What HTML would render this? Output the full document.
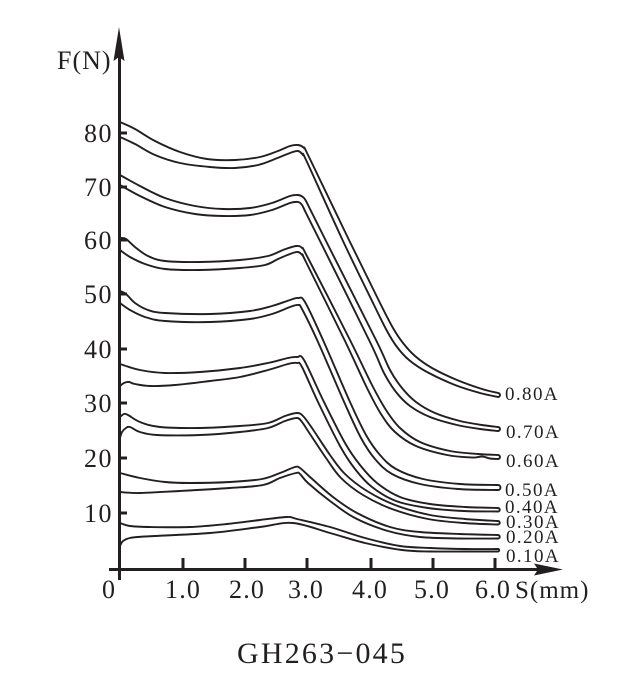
<!DOCTYPE html>
<html>
<head>
<meta charset="utf-8">
<style>
  html, body { margin: 0; padding: 0; background: #ffffff; }
  svg { display: block; }
  .t { font-family: "Liberation Serif", "DejaVu Serif", serif; fill: #231f20; }
</style>
</head>
<body>
<svg id="chart" width="642" height="691" viewBox="0 0 642 691" xmlns="http://www.w3.org/2000/svg">
  <rect x="0" y="0" width="642" height="691" fill="#ffffff"/>

  <!-- Y axis -->
  <line x1="119.5" y1="52" x2="119.5" y2="580" stroke="#231f20" stroke-width="3"/>
  <polygon points="119,27 113.5,61 119,57 124.5,61" fill="#231f20"/>
  <!-- X axis -->
  <line x1="109" y1="569.5" x2="540" y2="569.5" stroke="#231f20" stroke-width="3"/>
  <polygon points="563,569.5 534,563.5 538,569.5 534,575.5" fill="#231f20"/>

  <!-- Y ticks -->
  <g stroke="#231f20" stroke-width="3">
    <line x1="119" y1="133" x2="127" y2="133"/>
    <line x1="119" y1="187" x2="127" y2="187"/>
    <line x1="119" y1="240" x2="127" y2="240"/>
    <line x1="119" y1="294" x2="127" y2="294"/>
    <line x1="119" y1="349" x2="127" y2="349"/>
    <line x1="119" y1="403" x2="127" y2="403"/>
    <line x1="119" y1="458" x2="127" y2="458"/>
    <line x1="119" y1="513" x2="127" y2="513"/>
  </g>
  <!-- X ticks -->
  <g stroke="#231f20" stroke-width="3">
    <line x1="183" y1="558" x2="183" y2="569"/>
    <line x1="245" y1="558" x2="245" y2="569"/>
    <line x1="307" y1="558" x2="307" y2="569"/>
    <line x1="371" y1="558" x2="371" y2="569"/>
    <line x1="433" y1="558" x2="433" y2="569"/>
    <line x1="495" y1="558" x2="495" y2="569"/>
  </g>

  <!-- Y labels -->
  <g class="t" font-size="26" letter-spacing="1.5">
    <text x="84" y="142">80</text>
    <text x="84" y="196">70</text>
    <text x="84" y="249">60</text>
    <text x="84" y="303">50</text>
    <text x="84" y="358">40</text>
    <text x="84" y="412">30</text>
    <text x="84" y="467">20</text>
    <text x="84" y="522">10</text>
  </g>
  <!-- X labels -->
  <g class="t" font-size="26" letter-spacing="1.2">
    <text x="102" y="598">0</text>
    <text x="165" y="598">1.0</text>
    <text x="229" y="598">2.0</text>
    <text x="288" y="598">3.0</text>
    <text x="352" y="598">4.0</text>
    <text x="414" y="598">5.0</text>
    <text x="475" y="598">6.0</text>
  </g>
  <text class="t" x="515" y="598" font-size="25" letter-spacing="1">S(mm)</text>
  <text class="t" x="57" y="69" font-size="26" letter-spacing="1">F(N)</text>

  <!-- Curve labels -->
  <g class="t" font-size="19" letter-spacing="1.4">
    <text x="505" y="400">0.80A</text>
    <text x="506" y="438">0.70A</text>
    <text x="506" y="467">0.60A</text>
    <text x="505" y="496">0.50A</text>
    <text x="505" y="513">0.40A</text>
    <text x="506" y="528">0.30A</text>
    <text x="506" y="543">0.20A</text>
    <text x="506" y="562">0.10A</text>
  </g>

  <text class="t" x="237" y="663" font-size="30" letter-spacing="2.2">GH263−045</text>

  <g id="curves" fill="none" stroke="#231f20" stroke-width="1.9" stroke-linejoin="round" stroke-linecap="round"></g>
</svg>
<script>
(function(){
  var pairs = [
    [ // 0.80A
      [[120,122],[135,129],[155,141],[180,152],[207,159],[235,160],[260,157],[278,151],[290,146],[298,145],[304,148],[309,157],[349,240],[380,303],[393,328],[403,343],[415,356],[432,368],[457,380],[482,389],[498,393]],
      [[120,137],[135,144],[155,155],[180,163],[210,167],[235,168],[258,165],[275,159],[290,153],[298,151],[303,155],[307,162],[343,241],[374,305],[387,331],[397,347],[409,360],[427,372],[455,385],[480,393],[498,397]]
    ],
    [ // 0.70A
      [[120,175],[140,186],[165,198],[195,206],[223,209],[250,208],[272,203],[290,196],[298,195],[304,198],[309,207],[327,243],[376,340],[390,370],[402,388],[416,402],[435,413],[460,421],[482,425],[498,427]],
      [[120,185],[140,196],[165,207],[195,214],[223,216],[250,215],[272,210],[290,203],[298,202],[302,205],[306,213],[322,245],[370,342],[384,373],[396,392],[410,406],[430,417],[457,425],[480,429],[498,431]]
    ],
    [ // 0.60A
      [[120,238],[126,239],[135,247],[148,256],[165,261],[200,262],[240,260],[268,256],[283,250],[296,246],[302,248],[308,258],[350,340],[372,385],[386,410],[400,428],[420,442],[450,451],[478,454],[498,455]],
      [[120,250],[130,257],[145,264],[165,269],[200,270],[240,268],[265,265],[278,259],[290,254],[298,252],[303,256],[306,262],[345,341],[367,388],[381,414],[395,432],[416,446],[447,455],[472,457.5],[482,456.5],[490,458.5],[498,459]]
    ],
    [ // 0.50A
      [[120,291],[126,294],[135,303],[148,310],[165,313],[210,314],[250,311],[272,306],[290,300],[298,298],[305,302],[323,340],[350,402],[366,435],[380,455],[396,469],[423,479],[460,484],[498,485]],
      [[120,303],[130,310],[145,317],[165,321],[210,322],[250,319],[272,314],[290,307],[298,305],[302,309],[318,342],[345,404],[361,438],[375,459],[392,474],[420,484],[458,489],[498,490]]
    ],
    [ // 0.40A
      [[120,364],[140,370],[165,373],[200,372],[240,368],[268,363],[288,358],[297,357],[304,360],[323,400],[345,443],[360,465],[377,483],[400,497],[430,504],[465,507],[498,508]],
      [[120,386],[124,383],[129,382],[135,384],[150,386],[175,385],[210,381],[240,377],[268,370],[288,364],[297,363],[302,367],[318,402],[340,446],[355,469],[372,487],[396,501],[428,508],[464,511],[498,511.5]]
    ],
    [ // 0.30A
      [[120,417],[124,414],[128,415],[140,422],[160,427],[200,428],[240,426],[268,423],[285,416],[297,413],[303,416],[312,428],[330,455],[345,474],[367,491],[395,505],[430,515],[465,519],[498,521]],
      [[120,438],[122,432],[126,428],[130,427],[140,432],[157,435],[200,435],[240,432],[268,428],[285,421],[297,418],[302,422],[308,431],[326,458],[341,478],[363,495],[392,509],[428,519],[464,523],[498,524.5]]
    ],
    [ // 0.20A
      [[120,473],[140,478],[165,482],[190,483],[230,482],[262,479],[280,473],[295,467],[300,468],[310,477],[333,497],[357,513],[390,527],[420,532],[460,534],[498,535]],
      [[120,492],[140,493],[180,491],[230,488],[263,485],[280,478],[296,473],[300,474],[308,483],[330,501],[355,518],[388,531],[420,537],[460,538.5],[498,538.5]]
    ],
    [ // 0.10A
      [[120,523],[130,526],[150,527],[190,527],[227,524],[260,520],[287,517],[297,519],[330,527],[365,538],[400,546],[430,548],[465,549],[498,549]],
      [[120,546],[123,541],[130,538],[145,536.5],[210,533],[260,527],[293,523],[330,533],[365,543],[402,550],[430,551.5],[465,551.5],[498,551.5]]
    ]
  ];
  function f(v){ return (Math.round(v*100)/100).toString(); }
  function cr(p){
    var d = '';
    for (var i = 0; i < p.length - 1; i++) {
      var p0 = p[i-1] || p[i], p1 = p[i], p2 = p[i+1], p3 = p[i+2] || p2;
      var c1x = p1[0] + (p2[0]-p0[0])/6, c1y = p1[1] + (p2[1]-p0[1])/6;
      var c2x = p2[0] - (p3[0]-p1[0])/6, c2y = p2[1] - (p3[1]-p1[1])/6;
      d += ' C' + f(c1x) + ',' + f(c1y) + ' ' + f(c2x) + ',' + f(c2y) + ' ' + f(p2[0]) + ',' + f(p2[1]);
    }
    return d;
  }
  var g = document.getElementById('curves');
  var ns = 'http://www.w3.org/2000/svg';
  pairs.forEach(function(pr){
    var U = pr[0], L = pr[1].slice().reverse();
    var ue = U[U.length-1], ls = L[0];
    var r = Math.max((ls[1]-ue[1])/2, 0.5);
    var d = 'M' + U[0][0] + ',' + U[0][1] + cr(U) +
            ' A' + f(r) + ',' + f(r) + ' 0 0 1 ' + ls[0] + ',' + ls[1] + cr(L);
    var path = document.createElementNS(ns, 'path');
    path.setAttribute('d', d);
    g.appendChild(path);
  });
})();
</script>
</body>
</html>
